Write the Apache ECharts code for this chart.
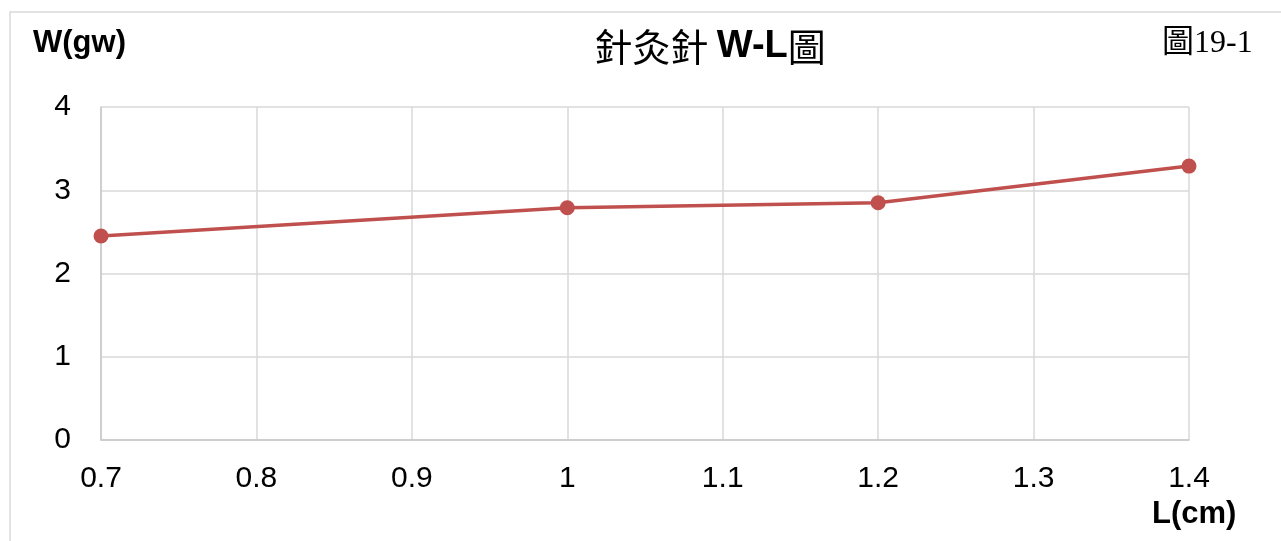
<!DOCTYPE html>
<html><head><meta charset="utf-8">
<script src="https://cdn.jsdelivr.net/npm/echarts@6/dist/echarts.min.js"></script>
<style>html,body{margin:0;padding:0;background:#fff}#c{width:1281px;height:541px}</style>
</head><body><div id="c"></div>
<script>
const lengths = [0.7, 1.0, 1.2, 1.4];
const weights = [2.45, 2.79, 2.85, 3.29];
const xTicks = {min: 0.7, max: 1.4, interval: 0.1};
const yTicks = {min: 0, max: 4, interval: 1};
const titleParts = ['針灸針 ', 'W-L', '圖'];
const figLabel = '圖19-1';
const yName = 'W(gw)';
const xName = 'L(cm)';

const chart = echarts.init(document.getElementById('c'), null, {renderer: 'canvas'});
chart.setOption({
  animation: false,
  backgroundColor: '#fff',
  grid: {left: 101, right: 92, top: 107, bottom: 101},
  xAxis: {
    type: 'value', min: xTicks.min, max: xTicks.max, interval: xTicks.interval,
    axisLine: {show: true, lineStyle: {color: '#c8c8c8', width: 1.5}},
    axisTick: {show: false},
    splitLine: {show: true, lineStyle: {color: '#d9d9d9', width: 1.5}},
    axisLabel: {color: '#000', fontSize: 30, fontFamily: 'Liberation Sans, Arial', margin: 24,
      formatter: v => String(Math.round(v * 10) / 10)}
  },
  yAxis: {
    type: 'value', min: yTicks.min, max: yTicks.max, interval: yTicks.interval,
    axisLine: {show: true, lineStyle: {color: '#c8c8c8', width: 1.5}},
    axisTick: {show: false},
    splitLine: {show: true, lineStyle: {color: '#d9d9d9', width: 1.5}},
    axisLabel: {color: '#000', fontSize: 30, fontFamily: 'Liberation Sans, Arial', margin: 30}
  },
  series: [{
    type: 'line',
    data: lengths.map((x, i) => [x, weights[i]]),
    lineStyle: {color: '#c0504d', width: 3.5},
    itemStyle: {color: '#c0504d'},
    symbol: 'circle', symbolSize: 15,
    z: 5
  }],
  graphic: [
    {type: 'rect', shape: {x: 10, y: 12, width: 1280, height: 540}, style: {fill: 'none', stroke: '#d9d9d9', lineWidth: 1.5}, silent: true},
    {type: 'text', x: 710, y: 47, style: {
      text: '{a|' + titleParts[0] + '}{b|' + titleParts[1] + '}{a|' + titleParts[2] + '}',
      align: 'center', verticalAlign: 'middle',
      rich: {
        a: {fontSize: 38, fontFamily: 'Noto Sans CJK TC', fill: '#000'},
        b: {fontSize: 38, fontFamily: 'Liberation Sans, Arial', fontWeight: 'bold', fill: '#000'}
      }
    }},
    {type: 'text', x: 1162, y: 44, style: {text: figLabel, fontSize: 32, fontFamily: 'Liberation Serif, Noto Sans CJK TC', fill: '#000', verticalAlign: 'middle'}},
    {type: 'text', x: 33, y: 43, style: {text: yName, fontSize: 31, fontWeight: 'bold', fontFamily: 'Liberation Sans, Arial', fill: '#000', verticalAlign: 'middle'}},
    {type: 'text', x: 1152, y: 514, style: {text: xName, fontSize: 31, fontWeight: 'bold', fontFamily: 'Liberation Sans, Arial', fill: '#000', verticalAlign: 'middle'}}
  ]
});
</script>
</body></html>
